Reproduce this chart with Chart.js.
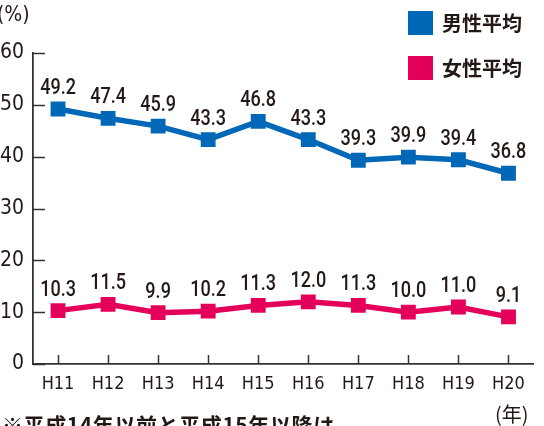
<!DOCTYPE html>
<html>
<head>
<meta charset="utf-8">
<script src="https://cdn.jsdelivr.net/npm/chart.js@4"></script>
<style>
    html, body { margin: 0; padding: 0; background: #fff; }
    #wrap { position: relative; width: 544px; height: 426px; overflow: hidden; }
    canvas { position: absolute; left: 0; top: 0; }
    .txt { position: absolute; color: #231815; font-family: "Noto Sans CJK JP", sans-serif; white-space: nowrap; }
    .legend { position: absolute; left: 408px; font-size: 20px; font-weight: 700; color: #231815;
              font-family: "Noto Sans CJK JP", sans-serif; line-height: 24px; }
    .legend span { display: inline-block; width: 25px; height: 24px; vertical-align: top; margin-right: 9px; }
</style>
</head>
<body>
<div id="wrap">
    <canvas id="rateChart" width="544" height="426"></canvas>
    <div class="txt" style="left:-3px; top:2px; font-size:21px; font-family:'DejaVu Sans Condensed', sans-serif;">(%)</div>
    <div class="legend" style="top:11px;"><span style="background:#0068b7"></span>男性平均</div>
    <div class="legend" style="top:56px;"><span style="background:#e4005a"></span>女性平均</div>
    <div class="txt" style="left:495px; top:399px; font-size:20px;">(年)</div>
    <div class="txt" style="left:2px; top:409px; font-size:21px; font-weight:700; letter-spacing:0.6px;">※平成14年以前と平成15年以降は</div>
</div>
<script>
// Data
const years = ['H11', 'H12', 'H13', 'H14', 'H15', 'H16', 'H17', 'H18', 'H19', 'H20'];
const maleAvg = [49.2, 47.4, 45.9, 43.3, 46.8, 43.3, 39.3, 39.9, 39.4, 36.8];
const femaleAvg = [10.3, 11.5, 9.9, 10.2, 11.3, 12.0, 11.3, 10.0, 11.0, 9.1];
const yTicks = [0, 10, 20, 30, 40, 50, 60];

const NARROW = "'DejaVu Sans Condensed', sans-serif";
const INK = '#231815';

// Tick marks point inward, and each point gets its value above it
const insideTicks = {
    id: 'insideTicks',
    afterDatasetsDraw(chart) {
        const ctx = chart.ctx;
        const x = chart.scales.x;
        const y = chart.scales.y;
        ctx.save();
        ctx.strokeStyle = '#333';
        ctx.lineWidth = 1.5;
        yTicks.forEach(v => {
            const py = Math.round(y.getPixelForValue(v)) + 0.5;
            ctx.beginPath();
            ctx.moveTo(x.left, py);
            ctx.lineTo(x.left + 12, py);
            ctx.stroke();
        });
        years.forEach((lab, i) => {
            const px = Math.round(x.getPixelForValue(i)) + 0.5;
            ctx.beginPath();
            ctx.moveTo(px, y.bottom);
            ctx.lineTo(px, y.bottom - 9);
            ctx.stroke();
        });

        // value labels (squeezed horizontally to look condensed)
        ctx.fillStyle = INK;
        ctx.font = '500 22px Roboto, sans-serif';
        ctx.textAlign = 'center';
        ctx.textBaseline = 'alphabetic';
        chart.data.datasets.forEach((ds, di) => {
            const meta = chart.getDatasetMeta(di);
            meta.data.forEach((pt, i) => {
                ctx.save();
                ctx.translate(pt.x, pt.y - 15);
                ctx.scale(0.82, 1);
                ctx.fillText(ds.data[i].toFixed(1), 0, 0);
                ctx.restore();
            });
        });
        ctx.restore();
    }
};

function initializeChart() {
    const ctx = document.getElementById('rateChart').getContext('2d');
    new Chart(ctx, {
        type: 'line',
        data: {
            labels: years,
            datasets: [{
                label: '男性平均',
                data: maleAvg,
                borderColor: '#0068b7',
                backgroundColor: '#0068b7',
                borderWidth: 5.5,
                pointStyle: 'rect',
                pointRadius: 10.5,
                pointBorderWidth: 0,
                tension: 0
            }, {
                label: '女性平均',
                data: femaleAvg,
                borderColor: '#e4005a',
                backgroundColor: '#e4005a',
                borderWidth: 5.5,
                pointStyle: 'rect',
                pointRadius: 10.5,
                pointBorderWidth: 0,
                tension: 0
            }]
        },
        options: {
            responsive: false,
            animation: false,
            layout: { padding: { top: 53, right: 4, left: 0, bottom: 0 } },
            plugins: {
                legend: { display: false },
                tooltip: { enabled: false }
            },
            scales: {
                x: {
                    offset: true,
                    grid: { display: false, drawTicks: false },
                    border: { display: true, color: '#333', width: 1.8 },
                    ticks: {
                        color: INK,
                        padding: 10,
                        font: { family: NARROW, size: 18 }
                    },
                    afterFit(scale) { scale.height = 62; }
                },
                y: {
                    min: 0,
                    max: 60,
                    grid: { display: false, drawTicks: false },
                    border: { display: true, color: '#333', width: 1.8 },
                    ticks: {
                        stepSize: 10,
                        color: INK,
                        padding: 9,
                        font: { family: NARROW, size: 21 }
                    },
                    afterFit(scale) { scale.width = 33; }
                }
            }
        },
        plugins: [insideTicks]
    });
}

window.onload = initializeChart;
</script>
</body>
</html>
